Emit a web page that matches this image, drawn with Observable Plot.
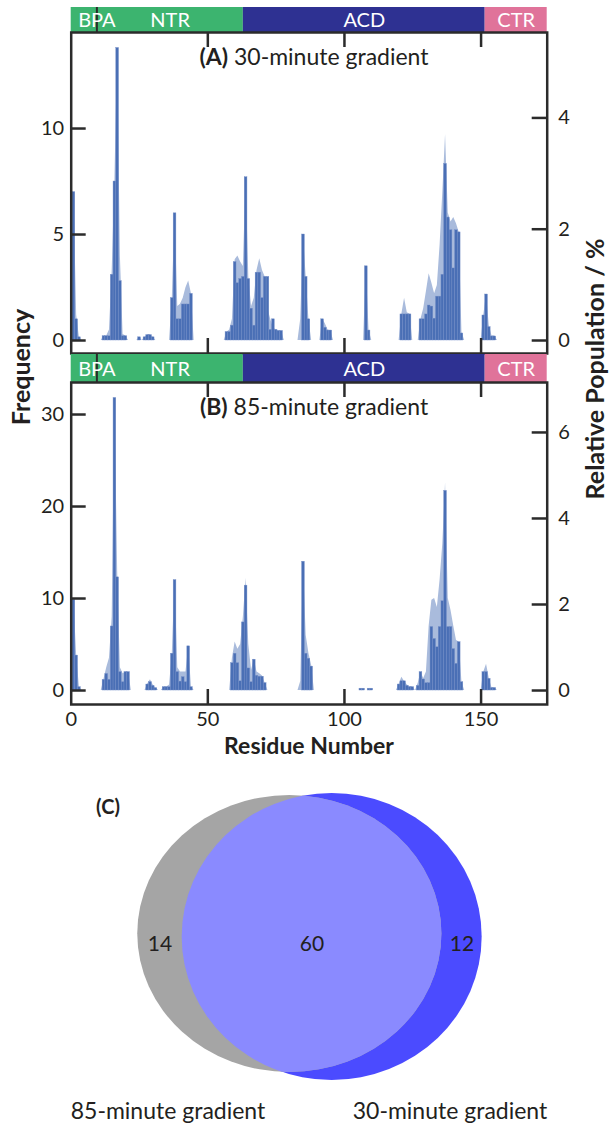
<!DOCTYPE html>
<html>
<head>
<meta charset="utf-8">
<script src="https://cdn.jsdelivr.net/npm/d3@7"></script>
<script src="https://cdn.jsdelivr.net/npm/@observablehq/plot@0.6"></script>
<style>
  body { margin: 0; background: #fff; }
  #fig { position: relative; width: 609px; height: 1129px; overflow: hidden; color: #231f20; }
</style>
</head>
<body>
<div id="fig"></div>
<script>
// ---------------- data ----------------
const X_MAX = 174.2;
const domainNames = ["NTR", "ACD", "CTR"];
const domainStart = [0, 63, 151.5];
const domainEnd = [63, 151.5, X_MAX];
const domainColors = ["#3cb46f", "#2e3192", "#e0739a"];
const bpaSite = 9.4;

// identification frequency per residue, as runs: [first residue, [values...]]
const freq30 = [
  [1, [7.0, 1.0, 0.15]],
  [12, [0.2, 0.2, 0.2, 3.1, 7.5, 13.8, 2.8, 0.2, 0.2]],
  [25, [0.15]],
  [27, [0.15, 0.25, 0.25, 0.15]],
  [37, [2.0, 6.0, 1.0, 1.0, 1.7, 1.7, 1.7, 2.2]],
  [57, [0.4, 0.4, 0.7, 3.7, 2.7, 2.9, 3.0, 7.7, 2.9, 1.5, 0.7, 3.2, 3.2, 2.0, 3.0, 3.0, 0.5, 1.0, 0.5, 0.45, 0.45]],
  [85, [5.0, 3.0, 1.0]],
  [92, [1.0, 0.6, 0.47, 0.47]],
  [108, [3.5, 0.47]],
  [121, [1.23, 1.23, 1.23, 1.23]],
  [128, [1.0, 1.0, 1.23, 1.65, 1.6, 1.03, 2.07, 2.07, 3.1, 8.33, 5.8, 5.2, 3.4, 5.2, 5.1, 0.33]],
  [151, [1.18, 2.17, 0.63, 0.19, 0.19]]
];
// relative population (%) per residue, as runs: [first residue, [values...]]
const pop30 = [
  [0, [0, 2.67, 0.46, 0.06, 0]],
  [11, [0, 0.08, 0.08, 0.19, 1.26, 2.90, 5.26, 1.52, 0.11, 0.08, 0]],
  [24, [0, 0.06, 0, 0.06, 0.11, 0.11, 0.06, 0]],
  [36, [0, 0.76, 2.29, 0.61, 0.65, 0.76, 0.95, 1.07, 0.84, 0]],
  [56, [0, 0.15, 0.19, 0.38, 1.45, 1.52, 1.41, 1.33, 2.93, 1.14, 0.61, 0.76, 1.26, 1.47, 1.26, 1.14, 0.57, 0.38, 0.23, 0.19, 0.17, 0.17, 0]],
  [83, [0, 0.38, 1.90, 1.14, 0.38, 0]],
  [91, [0, 0.38, 0.30, 0.19, 0.17, 0]],
  [107, [0, 1.33, 0.19, 0]],
  [120, [0, 0.47, 0.76, 0.50, 0.47, 0]],
  [127, [0, 0.38, 0.57, 0.88, 1.20, 1.03, 0.84, 0.99, 1.71, 2.67, 3.70, 2.29, 2.13, 2.21, 2.10, 1.94, 0.15, 0]],
  [150, [0, 0.46, 0.84, 0.27, 0.08, 0.08, 0]]
];
const freq85 = [
  [1, [9.85, 3.8, 0.36]],
  [12, [1.16, 1.8, 1.16, 6.96, 31.8, 12.3, 2.0, 0.9, 2.0, 2.0]],
  [28, [0.65, 0.9, 0.5, 0.25]],
  [34, [0.36, 0.36, 0.36, 4.0, 12.0, 2.0, 0.97, 1.45, 0.9, 4.8, 0.36]],
  [59, [2.97, 4.0, 2.97, 1.0, 7.4, 11.4, 2.4, 0.9, 3.35, 1.6, 1.5, 1.5, 0.8]],
  [85, [14.0, 4.0, 3.45, 2.6]],
  [106, [0.2, 0.2]],
  [109, [0.2, 0.2]],
  [120, [0.65, 1.0, 1.0, 0.5, 0.36, 0.36]],
  [127, [0.5, 2.0, 1.2, 0.8, 0.8, 6.9, 5.6, 4.7, 6.9, 9.7, 21.7, 6.9, 6.9, 4.5, 2.9, 5.25, 0.9]],
  [151, [2.0, 2.0, 1.27, 0.27, 0.27]]
];
const pop85 = [
  [0, [0, 2.11, 0.81, 0.09, 0]],
  [11, [0, 0.26, 0.53, 0.75, 1.71, 6.80, 2.78, 0.53, 0.39, 0.43, 0.43, 0]],
  [27, [0, 0.15, 0.25, 0.13, 0.06, 0]],
  [33, [0, 0.08, 0.08, 0.13, 0.86, 2.57, 0.53, 0.43, 0.43, 0.43, 1.03, 0.09, 0]],
  [58, [0, 0.75, 1.13, 0.96, 1.07, 1.71, 2.61, 1.07, 0.47, 0.73, 0.43, 0.39, 0.34, 0.17, 0]],
  [83, [0, 0.21, 2.99, 1.28, 0.86, 0.58, 0]],
  [119, [0, 0.14, 0.31, 0.21, 0.13, 0.09, 0.08, 0]],
  [126, [0, 0.17, 0.43, 0.28, 0.43, 1.50, 2.10, 2.14, 1.93, 2.57, 3.42, 4.83, 2.14, 1.86, 1.50, 1.16, 1.13, 0.19, 0]],
  [150, [0, 0.43, 0.61, 0.28, 0.06, 0.06, 0]]
];
// frequency equivalent to 1 % relative population (links the two y axes)
const freqPerPercent30 = 2.625;
const freqPerPercent85 = 4.675;

const freqTicks30 = [0, 5, 10];
const popTicks30 = [0, 2, 4];
const freqTicks85 = [0, 10, 20, 30];
const popTicks85 = [0, 2, 4, 6];
const residueTicks = [0, 50, 100, 150];

// overlap of identified residues between the two gradients
const only85 = 14, shared = 60, only30 = 12;
const vennNames = ["85-minute gradient", "30-minute gradient"];

// ---------------- layout ----------------
const W = 609;
const ML = 70.7, MR = 62.3;
const FONT = "Lato, 'Open Sans', sans-serif";
const INK = "#2b2b2b";
const TICK = 15;
const fig = document.getElementById("fig");

function place(node, top) {
  node.style.position = "absolute";
  node.style.left = "0px";
  node.style.top = top + "px";
  fig.appendChild(node);
}

function domainBar(height) {
  const labels = [
    {name: "BPA", at: bpaSite},
    {name: "NTR", at: (bpaSite + domainEnd[0]) / 2},
    {name: "ACD", at: (domainStart[1] + domainEnd[1]) / 2},
    {name: "CTR", at: (domainStart[2] + domainEnd[2]) / 2}
  ];
  return Plot.plot({
    width: W, height,
    marginLeft: ML, marginRight: MR, marginTop: 0, marginBottom: 0,
    style: {background: "none", fontFamily: FONT, overflow: "visible"},
    x: {domain: [0, X_MAX], axis: null},
    color: {domain: domainNames, range: domainColors},
    marks: [
      Plot.rect(domainNames, {x1: (d, i) => domainStart[i], x2: (d, i) => domainEnd[i], fill: d => d}),
      Plot.ruleX([bpaSite], {stroke: INK, strokeWidth: 2}),
      Plot.text(labels, {x: "at", frameAnchor: "middle", text: "name", fill: "white", fontSize: 20, dy: 1})
    ]
  });
}

function panel({bars, pop, perPercent, freqTicks, popTicks, yDomain, height, marginBottom, showX}) {
  const barData = bars.flatMap(([first, values]) => values.map((f, i) => ({residue: first + i, f})));
  const popData = pop.flatMap(([first, values], run) => values.map((p, i) => ({residue: first + i, p, run})));
  const marginTop = 2;
  const frameH = height - marginTop - marginBottom;
  const frameW = W - ML - MR;
  const inner = residueTicks.filter(t => t > 0);
  const popAsFreq = popTicks.map(p => p * perPercent);
  const marks = [
    Plot.areaY(popData, {x: "residue", y: d => d.p * perPercent, z: "run", fill: "#a9bbdc"}),
    Plot.rectY(barData, {x1: d => d.residue - 0.5, x2: d => d.residue + 0.5, y: "f",
      fill: "#4a6fb5", stroke: "#7690c8", strokeWidth: 0.4}),
    Plot.frame({stroke: INK, strokeWidth: 2.5}),
    Plot.ruleY(freqTicks, {stroke: INK, strokeWidth: 2.5, insetRight: frameW - TICK}),
    Plot.ruleY(popAsFreq, {stroke: INK, strokeWidth: 2.5, insetLeft: frameW - TICK}),
    Plot.ruleX(inner, {stroke: INK, strokeWidth: 2.5, insetTop: frameH - TICK}),
    Plot.ruleX(inner, {stroke: INK, strokeWidth: 2.5, insetBottom: frameH - TICK}),
    Plot.axisY(freqTicks, {anchor: "left", tickSize: 0, tickPadding: 7, fontSize: 20, label: null}),
    Plot.axisY(popAsFreq, {anchor: "right", tickSize: 0, tickPadding: 11, fontSize: 20, label: null,
      tickFormat: v => d3.format("d")(Math.round(v / perPercent))})
  ];
  if (showX) marks.push(Plot.axisX(residueTicks, {anchor: "bottom", tickSize: 0, tickPadding: 7, fontSize: 20, label: null}));
  return Plot.plot({
    width: W, height,
    marginLeft: ML, marginRight: MR, marginTop, marginBottom,
    style: {background: "none", fontFamily: FONT, color: "#231f20", overflow: "visible"},
    x: {domain: [0, X_MAX], axis: showX ? undefined : null, label: null},
    y: {domain: yDomain, label: null},
    marks
  });
}

place(domainBar(25), 7);
place(panel({bars: freq30, pop: pop30, perPercent: freqPerPercent30, freqTicks: freqTicks30, popTicks: popTicks30,
  yDomain: [-0.613, 14.53], height: 326, marginBottom: 3, showX: false}), 30);
place(domainBar(28), 354);
place(panel({bars: freq85, pop: pop85, perPercent: freqPerPercent85, freqTicks: freqTicks85, popTicks: popTicks85,
  yDomain: [-1.52, 33.48], height: 380, marginBottom: 56, showX: true}), 380);

// ---------------- Venn diagram ----------------
const VH = 359;
const set85 = only85 + shared, set30 = only30 + shared;
const rMax = 150;
const rOf = n => rMax * Math.sqrt(n / set30);
const r85 = rOf(set85), r30 = rOf(set30);
const unitArea = Math.PI * r30 * r30 / set30;
function lens(d) {
  const a = r85, b = r30;
  if (d >= a + b) return 0;
  if (d <= Math.abs(a - b)) return Math.PI * Math.min(a, b) ** 2;
  const p = a * a * Math.acos((d * d + a * a - b * b) / (2 * d * a));
  const q = b * b * Math.acos((d * d + b * b - a * a) / (2 * d * b));
  const s = 0.5 * Math.sqrt((-d + a + b) * (d + a - b) * (d - a + b) * (d + a + b));
  return p + q - s;
}
let lo = Math.abs(r85 - r30), hi = r85 + r30;
for (let k = 0; k < 60; k++) {
  const mid = (lo + hi) / 2;
  if (lens(mid) > shared * unitArea) lo = mid; else hi = mid;
}
const dist = (lo + hi) / 2;
const midX = 310.5, labelY = 174;
const cx85 = midX - dist / 2, cx30 = midX + dist / 2;
// each circle is drawn slightly flattened vertically about its own centre
const cy85 = 163.5, squash85 = 0.911;
const cy30 = 166.5, squash30 = 0.957;
const sets = [
  {name: vennNames[0], n: set85, cx: cx85, cy: cy85, fill: "#a5a5a5"},
  {name: vennNames[1], n: set30, cx: cx30, cy: cy30, fill: "#4b4bff"}
];
const counts = [
  {n: only85, cx: ((cx85 - r85) + (cx30 - r30)) / 2},
  {n: shared, cx: ((cx30 - r30) + (cx85 + r85)) / 2},
  {n: only30, cx: ((cx85 + r85) + (cx30 + r30)) / 2}
];
const venn = Plot.plot({
  width: W, height: VH, margin: 0,
  style: {background: "none", fontFamily: FONT, color: "#231f20", overflow: "visible"},
  x: {domain: [0, W], range: [0, W], axis: null},
  y: {domain: [0, VH], range: [0, VH], axis: null},
  r: {type: "sqrt", domain: [0, set30], range: [0, rMax]},
  marks: [
    Plot.dot(sets.slice(1), {x: "cx", y: "cy", r: "n", fill: "fill", stroke: null}),
    Plot.dot(sets.slice(0, 1), {x: "cx", y: "cy", r: "n", fill: "fill", stroke: null}),
    Plot.dot(sets.slice(1), {x: "cx", y: "cy", r: "n", fill: "#8a8aff", stroke: null}),
    Plot.text(counts, {x: "cx", y: () => labelY, text: d => String(d.n), fontSize: 21, fill: "#231f20"})
  ]
});
{
  const ns = "http://www.w3.org/2000/svg";
  const groups = venn.querySelectorAll('g[aria-label="dot"]');
  const flatten = (c, s) => `translate(0,${c * (1 - s)}) scale(1,${s})`;
  groups[0].setAttribute("transform", flatten(cy30, squash30));
  groups[1].setAttribute("transform", flatten(cy85, squash85));
  groups[2].setAttribute("transform", flatten(cy30, squash30));
  // the third layer paints the shared region: clip it to the 85-minute shape,
  // re-expressed in the coordinates of the 30-minute layer
  const a = squash85 / squash30;
  const b = cy30 + (cy85 - squash85 * cy85 - cy30) / squash30;
  const shape85 = groups[1].querySelector("circle").cloneNode();
  shape85.setAttribute("transform", `matrix(1,0,0,${a},0,${b})`);
  const clip = document.createElementNS(ns, "clipPath");
  clip.setAttribute("id", "inside85");
  clip.appendChild(shape85);
  const defs = document.createElementNS(ns, "defs");
  defs.appendChild(clip);
  venn.insertBefore(defs, venn.firstChild);
  groups[2].querySelector("circle").setAttribute("clip-path", "url(#inside85)");
}
place(venn, 770);

// ---------------- titles and axis labels ----------------
const overlay = d3.create("svg")
  .attr("width", W).attr("height", 1129)
  .style("position", "absolute").style("left", "0px").style("top", "0px")
  .style("font-family", FONT).style("fill", "#231f20").style("pointer-events", "none");

function title(letter, text, x, y) {
  const t = overlay.append("text").attr("x", x).attr("y", y).attr("text-anchor", "middle").attr("font-size", 23);
  t.append("tspan").attr("font-weight", "bold").text(`(${letter})`);
  t.append("tspan").text(" " + text);
}
title("A", "30-minute gradient", 314, 65);
title("B", "85-minute gradient", 314, 415);

overlay.append("text").attr("transform", "translate(30,367) rotate(-90)")
  .attr("text-anchor", "middle").attr("font-size", 25).attr("font-weight", "bold").text("Frequency");
overlay.append("text").attr("transform", "translate(604,369) rotate(-90)")
  .attr("text-anchor", "middle").attr("font-size", 25).attr("font-weight", "bold").text("Relative Population / %");
overlay.append("text").attr("x", 309).attr("y", 754)
  .attr("text-anchor", "middle").attr("font-size", 23).attr("font-weight", "bold").text("Residue Number");

overlay.append("text").attr("x", 108).attr("y", 814)
  .attr("text-anchor", "middle").attr("font-size", 20).attr("font-weight", "bold").text("(C)");
overlay.append("text").attr("x", 168).attr("y", 1119)
  .attr("text-anchor", "middle").attr("font-size", 23).text(vennNames[0]);
overlay.append("text").attr("x", 450).attr("y", 1119)
  .attr("text-anchor", "middle").attr("font-size", 23).text(vennNames[1]);

fig.appendChild(overlay.node());
</script>
</body>
</html>
